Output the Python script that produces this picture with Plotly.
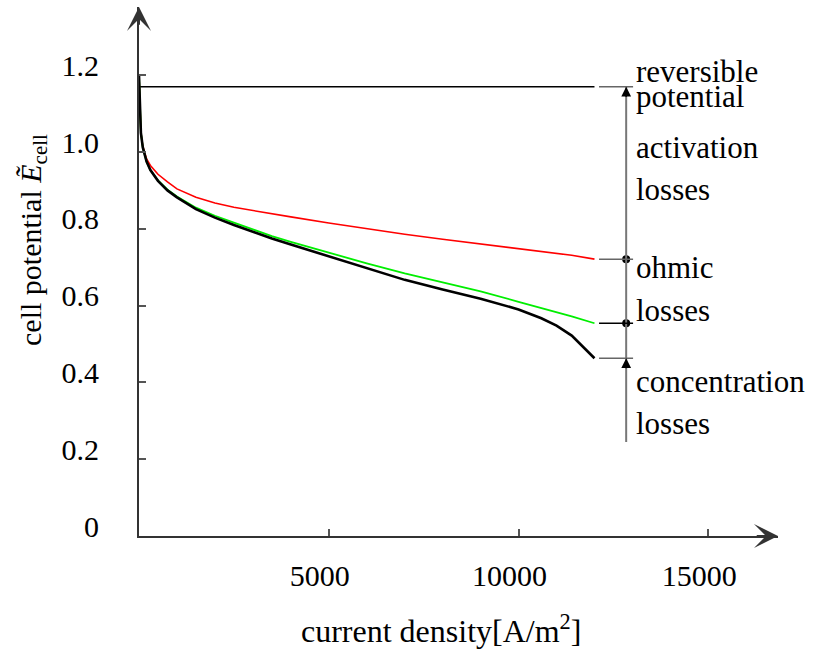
import plotly.graph_objects as go

# Polarisation curves of a fuel cell (cell potential vs. current density)
current_density = [0, 20, 50, 100, 200, 300, 500, 750, 1000, 1500, 2000, 2500, 3000,
                   3500, 4000, 5000, 6000, 7000, 8000, 9000, 10000, 10600, 11000, 11400, 12000]
# activation losses only
e_activation = [1.20, 1.12, 1.05, 1.015, 0.982, 0.965, 0.942, 0.922, 0.904, 0.882, 0.867,
                0.856, 0.847, 0.839, 0.831, 0.815, 0.800, 0.786, 0.773, 0.761, 0.749,
                0.741, 0.736, 0.731, 0.721]
# activation + ohmic losses
e_ohmic = [1.20, 1.12, 1.05, 1.012, 0.975, 0.953, 0.926, 0.902, 0.884, 0.855, 0.834,
           0.816, 0.798, 0.781, 0.766, 0.737, 0.710, 0.684, 0.661, 0.637, 0.610,
           0.594, 0.583, 0.572, 0.554]
# activation + ohmic + concentration losses
e_cell = [1.20, 1.12, 1.05, 1.012, 0.975, 0.953, 0.925, 0.900, 0.882, 0.851, 0.829,
          0.810, 0.792, 0.775, 0.759, 0.728, 0.697, 0.667, 0.642, 0.618, 0.590,
          0.567, 0.548, 0.522, 0.463]
e_reversible = 1.17

x_tick_vals = [5000, 10000, 15000]
x_tick_text = ["5000", "10000", "15000"]
y_tick_vals = [0, 0.2, 0.4, 0.6, 0.8, 1.0, 1.2]
y_tick_text = ["0", "0.2", "0.4", "0.6", "0.8", "1.0", "1.2"]

W, H = 821, 653
ML, MR, MT, MB = 139, 43, 7, 117
PW, PH = W - ML - MR, H - MT - MB
X_MAX = 16835
Y_MAX = PH / 384.0

FONT = "Liberation Serif"
AXIS_COLOR = "#333333"

x_end = current_density[-1]
dim_x = x_end + 835          # vertical dimension line
stub0, stub1 = x_end + 120, x_end + 1017
dim_bottom = 0.245


def px(xp):
    return (xp - ML) / PW


def py(yp):
    return (H - MB - yp) / PH


fig = go.Figure()

fig.add_trace(go.Scatter(x=[0, x_end], y=[e_reversible, e_reversible], mode="lines",
                         line=dict(color="black", width=1.5), hoverinfo="skip"))
fig.add_trace(go.Scatter(x=current_density, y=e_activation, mode="lines",
                         line=dict(color="#ff0000", width=1.6), hoverinfo="skip"))
fig.add_trace(go.Scatter(x=current_density, y=e_ohmic, mode="lines",
                         line=dict(color="#00ee00", width=1.8), hoverinfo="skip"))
fig.add_trace(go.Scatter(x=current_density, y=e_cell, mode="lines",
                         line=dict(color="black", width=2.6), hoverinfo="skip"))

# dimension line on the right with its stubs
shapes = [dict(type="line", xref="x", yref="y", x0=dim_x, x1=dim_x,
               y0=e_reversible, y1=dim_bottom, line=dict(color="#777777", width=2))]
for level, col in [(e_reversible, "#666666"), (e_activation[-1], "#666666"),
                   (e_ohmic[-1], "black"), (e_cell[-1], "#666666")]:
    shapes.append(dict(type="line", xref="x", yref="y", x0=stub0, x1=stub1,
                       y0=level, y1=level, line=dict(color=col, width=1.5)))

fig.add_trace(go.Scatter(x=[dim_x, dim_x], y=[e_activation[-1], e_ohmic[-1]], mode="markers",
                         marker=dict(color="black", size=8), hoverinfo="skip"))

annotations = []
# axis arrow heads
annotations.append(dict(x=X_MAX, y=0, ax=X_MAX - 600, ay=0, xref="x", yref="y",
                        axref="x", ayref="y", text="", showarrow=True, arrowhead=3,
                        arrowsize=2, arrowwidth=2, arrowcolor=AXIS_COLOR, standoff=0))
annotations.append(dict(x=0, y=Y_MAX, ax=0, ay=Y_MAX - 0.05, xref="x", yref="y",
                        axref="x", ayref="y", text="", showarrow=True, arrowhead=3,
                        arrowsize=2, arrowwidth=2, arrowcolor=AXIS_COLOR, standoff=0))
# dimension arrows
for tip in (e_reversible, e_cell[-1]):
    annotations.append(dict(x=dim_x, y=tip, ax=dim_x, ay=tip - 0.03, xref="x", yref="y",
                            axref="x", ayref="y", text="", showarrow=True, arrowhead=2,
                            arrowsize=1.3, arrowwidth=1.5, arrowcolor="black", standoff=0))

# labels for the loss regions
for word, yp in [("reversible", 71.2), ("potential", 96.2), ("activation", 147.5),
                 ("losses", 189.5), ("ohmic", 267.5), ("losses", 310.2),
                 ("concentration", 381.2), ("losses", 423.5)]:
    annotations.append(dict(x=px(634), y=py(yp), xref="paper", yref="paper", text=word,
                            showarrow=False, xanchor="left", yanchor="middle",
                            font=dict(family=FONT, size=31, color="black")))

# axis titles
annotations.append(dict(x=px(33), y=py(240), xref="paper", yref="paper",
                        text="cell potential <i>E\u0303</i><sub>cell</sub>", textangle=-90,
                        showarrow=False, xanchor="center", yanchor="middle",
                        font=dict(family=FONT, size=30, color="black")))
annotations.append(dict(x=px(441), y=py(629), xref="paper", yref="paper",
                        text="current density[A/m<sup>2</sup>]",
                        showarrow=False, xanchor="center", yanchor="middle",
                        font=dict(family=FONT, size=32, color="black")))

fig.update_layout(
    width=W, height=H,
    margin=dict(l=ML, r=MR, t=MT, b=MB, pad=0),
    paper_bgcolor="white", plot_bgcolor="white",
    showlegend=False,
    shapes=shapes, annotations=annotations,
    font=dict(family=FONT, size=30, color="black"),
    xaxis=dict(range=[0, X_MAX], showgrid=False, zeroline=False, showline=True,
               linecolor=AXIS_COLOR, linewidth=2, ticks="inside", ticklen=7,
               tickwidth=1.5, tickcolor="#555555", tickvals=x_tick_vals,
               ticktext=x_tick_text, ticklabelstandoff=12, ticklabelshift=-9,
               tickfont=dict(family=FONT, size=30, color="black")),
    yaxis=dict(range=[0, Y_MAX], showgrid=False, zeroline=False, showline=True,
               linecolor=AXIS_COLOR, linewidth=2, ticks="inside", ticklen=7,
               tickwidth=1.5, tickcolor="#555555", tickvals=y_tick_vals,
               ticktext=y_tick_text, ticklabelstandoff=32, ticklabelshift=-10,
               tickfont=dict(family=FONT, size=30, color="black")),
)

fig.write_html("out.html")
